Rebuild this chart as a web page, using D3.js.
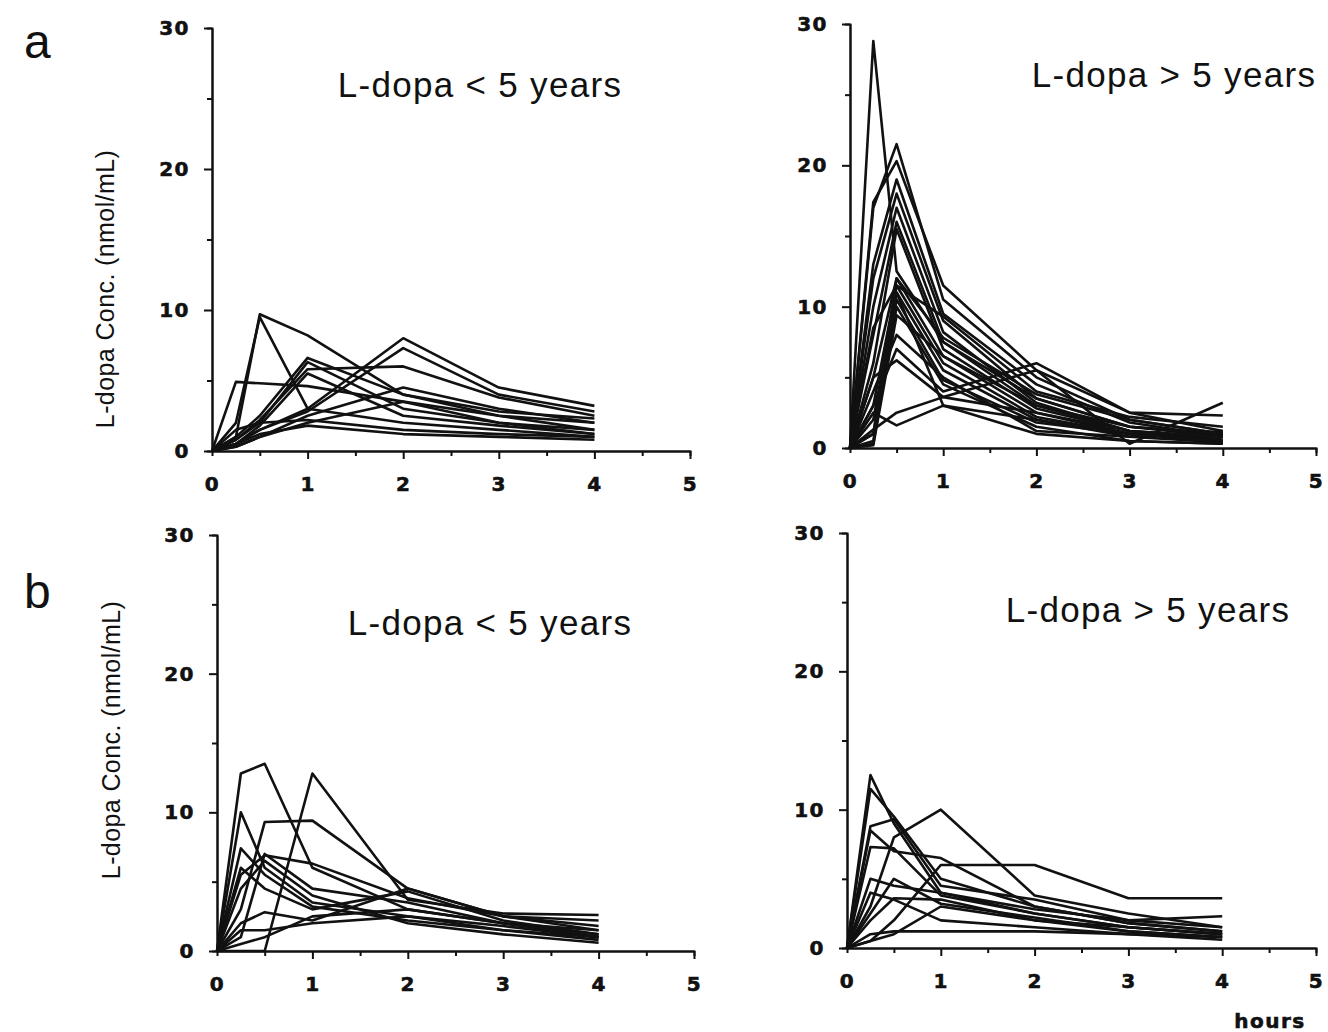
<!DOCTYPE html>
<html lang="en">
<head>
<meta charset="UTF-8">
<title>L-dopa concentration curves</title>
<script src="https://d3js.org/d3.v7.min.js"></script>
<style>
  body { margin: 0; background: #fff; }
  svg { display: block; }
  .tick text { font-family: "DejaVu Sans", sans-serif; font-weight: 700; font-size: 20px; letter-spacing: 1.5px; fill: #111; stroke: #111; stroke-width: 0.6px; }
  .domain, .tick line { stroke: #111; stroke-width: 2px; }
  .curve { fill: none; stroke: #111; stroke-width: 2.6px; stroke-linejoin: round; }
  .title { font-family: "Liberation Sans", Arial, sans-serif; font-size: 35px; letter-spacing: 1.3px; fill: #111; }
  .ylab { font-family: "Liberation Sans", Arial, sans-serif; font-size: 25px; letter-spacing: 0.4px; fill: #111; }
  .panel-letter { font-family: "Liberation Sans", Arial, sans-serif; font-size: 48px; fill: #111; }
  .hours { font-family: "DejaVu Sans", sans-serif; font-weight: 700; font-size: 20px; letter-spacing: 1.5px; fill: #111; stroke: #111; stroke-width: 0.6px; }
</style>
</head>
<body>
<svg id="chart" width="1328" height="1032"></svg>
<script>
// sampling times (hours)
const times = [0, 0.25, 0.5, 1, 2, 3, 4];

const xTicks = [0, 1, 2, 3, 4, 5];
const xMinor = [0.5, 1.5, 2.5, 3.5, 4.5];
const yTicks = [0, 10, 20, 30];
const yMinor = [5, 15, 25];

const titles = ["L-dopa < 5 years", "L-dopa > 5 years", "L-dopa < 5 years", "L-dopa > 5 years"];
const panelLetters = ["a", "b"];
const yTitle = "L-dopa Conc. (nmol/mL)";

// a: L-dopa < 5 years, one row per patient (nmol/mL at each time)
const aUnder5 = [
  [0, 1.0, 9.7, 8.2, 4.0, 2.5, 1.5],
  [0, 2.0, 9.5, 3.0, 2.0, 1.5, 1.0],
  [0, 4.9, 4.8, 4.6, 3.5, 2.5, 2.0],
  [0, 1.0, 2.5, 6.6, 4.0, 2.8, 2.3],
  [0, 0.8, 2.0, 6.3, 3.0, 2.0, 1.5],
  [0, 0.5, 1.5, 3.0, 8.0, 4.5, 3.2],
  [0, 0.5, 1.5, 2.8, 7.3, 4.0, 2.8],
  [0, 0.8, 2.2, 5.8, 6.0, 3.8, 2.5],
  [0, 0.3, 1.0, 2.5, 4.5, 3.0, 2.0],
  [0, 0.5, 1.2, 1.8, 1.2, 1.0, 0.8],
  [0, 0.3, 1.0, 2.0, 3.5, 2.0, 1.2],
  [0, 1.5, 2.0, 2.2, 1.5, 1.2, 1.0],
  [0, 0.5, 1.8, 5.5, 2.5, 1.8, 1.2]
];

// a: L-dopa > 5 years
const aOver5 = [
  [0, 28.8, 12.5, 7.5, 3.5, 1.5, 1.0],
  [0, 17.4, 20.3, 11.5, 5.5, 2.5, 1.2],
  [0, 17.0, 21.5, 10.5, 5.0, 2.0, 1.0],
  [0, 13.0, 19.0, 9.5, 4.5, 1.8, 0.8],
  [0, 12.0, 18.0, 9.0, 3.5, 1.5, 0.8],
  [0, 10.0, 17.0, 8.2, 3.2, 1.2, 0.6],
  [0, 8.0, 16.0, 7.5, 3.0, 1.5, 1.0],
  [0, 6.0, 15.5, 7.0, 2.8, 1.2, 0.5],
  [0, 5.0, 12.0, 6.5, 2.5, 1.0, 0.5],
  [0, 3.0, 11.5, 6.0, 2.2, 1.0, 0.8],
  [0, 2.0, 11.0, 5.5, 2.0, 0.8, 0.4],
  [0, 1.0, 10.5, 4.8, 1.8, 1.0, 0.5],
  [0, 0.3, 10.0, 4.5, 1.5, 0.5, 0.3],
  [0, 0.2, 9.4, 6.5, 3.0, 1.2, 0.8],
  [0, 4.0, 8.0, 5.0, 1.2, 0.8, 1.2],
  [0, 3.0, 7.0, 4.0, 6.0, 2.5, 2.3],
  [0, 5.0, 6.2, 3.6, 5.5, 0.3, 3.2],
  [0, 2.5, 1.6, 3.0, 2.0, 1.0, 0.5],
  [0, 1.3, 2.5, 3.6, 2.5, 1.2, 0.8],
  [0, 0.5, 11.0, 3.0, 1.0, 0.5, 0.3],
  [0, 1.0, 12.0, 7.8, 3.8, 2.0, 1.0],
  [0, 8.5, 11.5, 9.3, 4.0, 2.2, 1.5]
];

// b: L-dopa < 5 years
const bUnder5 = [
  [0, 12.8, 13.5, 6.0, 3.0, 2.0, 1.2],
  [0, 0, 0, 12.8, 3.7, 2.7, 2.6],
  [0, 10.0, 6.0, 3.5, 2.5, 1.8, 1.0],
  [0, 3.0, 9.3, 9.4, 4.5, 2.5, 1.5],
  [0, 7.4, 5.5, 3.2, 2.2, 1.5, 0.8],
  [0, 5.5, 6.9, 6.3, 3.8, 2.5, 1.8],
  [0, 6.0, 4.5, 3.0, 4.3, 2.2, 1.2],
  [0, 2.0, 2.8, 2.2, 4.5, 2.5, 2.2],
  [0, 1.5, 1.5, 2.0, 2.5, 1.5, 1.0],
  [0, 0.5, 1.0, 2.5, 3.0, 2.0, 1.5],
  [0, 4.5, 6.5, 4.0, 2.0, 1.2, 0.6],
  [0, 1.0, 7.0, 4.5, 3.5, 2.0, 1.0]
];

// b: L-dopa > 5 years
const bOver5 = [
  [0, 12.5, 9.0, 4.0, 2.5, 1.5, 1.0],
  [0, 11.5, 9.5, 5.0, 3.0, 1.8, 1.2],
  [0, 8.8, 9.3, 4.5, 3.5, 2.0, 1.5],
  [0, 3.0, 8.0, 10.0, 3.8, 2.5, 1.5],
  [0, 0.5, 2.0, 6.0, 6.0, 3.6, 3.6],
  [0, 7.3, 7.2, 3.8, 2.5, 1.5, 1.0],
  [0, 5.0, 4.5, 4.0, 2.8, 2.0, 2.3],
  [0, 2.0, 3.6, 3.5, 2.0, 1.2, 0.8],
  [0, 1.0, 1.2, 1.2, 1.2, 1.0, 0.6],
  [0, 0.5, 1.0, 3.0, 2.0, 1.5, 1.0],
  [0, 4.0, 3.5, 2.0, 1.5, 1.0, 0.8],
  [0, 8.5, 7.0, 6.5, 3.0, 1.8, 1.2],
  [0, 2.5, 5.0, 3.2, 2.2, 1.2, 0.8]
];

// pixel frame of each panel
const panels = [
  { data: aUnder5, title: titles[0], x0: 212, x5: 690, y0: 451, y30: 28, tx: 480, ty: 97, ylab: [114, 289] },
  { data: aOver5,  title: titles[1], x0: 850, x5: 1316, y0: 448, y30: 24, tx: 1174, ty: 87 },
  { data: bUnder5, title: titles[2], x0: 217, x5: 694, y0: 951, y30: 535, tx: 490, ty: 635, ylab: [120, 740] },
  { data: bOver5,  title: titles[3], x0: 847, x5: 1316, y0: 948, y30: 533, tx: 1148, ty: 622 }
];

const svg = d3.select("#chart");

panels.forEach(p => {
  const x = d3.scaleLinear().domain([0, 5]).range([p.x0, p.x5]);
  const y = d3.scaleLinear().domain([0, 30]).range([p.y0, p.y30]);
  const g = svg.append("g");

  // minor ticks first, then labelled axes
  g.append("g").attr("transform", `translate(0,${p.y0})`)
    .call(d3.axisBottom(x).tickValues(xMinor).tickSize(5).tickFormat(""));
  g.append("g").attr("transform", `translate(${p.x0},0)`)
    .call(d3.axisLeft(y).tickValues(yMinor).tickSize(5).tickFormat(""));

  const xa = g.append("g").attr("transform", `translate(0,${p.y0})`)
    .call(d3.axisBottom(x).tickValues(xTicks).tickSize(8).tickSizeOuter(0).tickPadding(18).tickFormat(d3.format("d")));
  xa.selectAll(".tick").filter(d => d === 0).select("line").remove();

  g.append("g").attr("transform", `translate(${p.x0},0)`)
    .call(d3.axisLeft(y).tickValues(yTicks).tickSize(8).tickSizeOuter(0).tickPadding(14).tickFormat(d3.format("d")));

  const line = d3.line().x((d, i) => x(times[i])).y(d => y(d));
  g.append("g").selectAll("path")
    .data(p.data)
    .join("path")
    .attr("class", "curve")
    .attr("d", line);

  g.append("text").attr("class", "title")
    .attr("x", p.tx).attr("y", p.ty)
    .attr("text-anchor", "middle")
    .text(p.title);

  if (p.ylab) {
    g.append("text").attr("class", "ylab")
      .attr("transform", `translate(${p.ylab[0]},${p.ylab[1]}) rotate(-90)`)
      .attr("text-anchor", "middle")
      .text(yTitle);
  }
});

svg.append("text").attr("class", "panel-letter").attr("x", 24).attr("y", 58).text(panelLetters[0]);
svg.append("text").attr("class", "panel-letter").attr("x", 24).attr("y", 608).text(panelLetters[1]);
svg.append("text").attr("class", "hours").attr("x", 1270).attr("y", 1028).attr("text-anchor", "middle").text("hours");
</script>
</body>
</html>
